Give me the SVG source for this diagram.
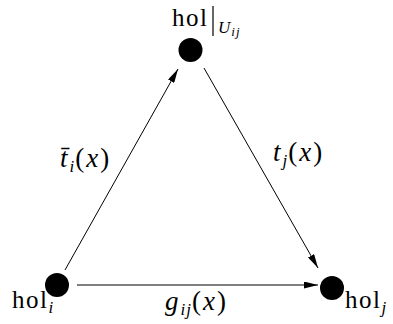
<svg xmlns="http://www.w3.org/2000/svg" width="393" height="324" viewBox="0 0 393 324">
<style>
.m{font-size:25px}
.mm{font-size:27px;letter-spacing:2px}
.s{font-size:17px;letter-spacing:1px}
.ss{font-size:13px}
.i{font-style:italic}
.n{font-style:normal}
.w{letter-spacing:1.5px}
.edge{stroke:#000;stroke-width:1;fill:none}
</style>
<defs>
<marker id="ah" viewBox="0 0 14 7" refX="14" refY="3.5" markerWidth="14" markerHeight="7" orient="auto" markerUnits="userSpaceOnUse">
<path d="M0,0 L14,3.5 L0,7 Z" fill="#000"/>
</marker>
</defs>
<rect width="393" height="324" fill="#fff"/>
<g id="connectors" font-family="Liberation Serif, Times New Roman, serif" fill="#000">
<line class="edge" x1="65" y1="270" x2="178" y2="69" marker-end="url(#ah)"/>
<line class="edge" x1="204" y1="68" x2="318" y2="268" marker-end="url(#ah)"/>
<line class="edge" x1="77" y1="285" x2="318" y2="285" marker-end="url(#ah)"/>
<text class="mm i" x="60" y="167">t̄<tspan class="s" dy="5">i</tspan><tspan class="n" dy="-5">(</tspan>x<tspan class="n">)</tspan></text>
<text class="mm i" x="273" y="161">t<tspan class="s" dy="5">j</tspan><tspan class="n" dy="-5">(</tspan>x<tspan class="n">)</tspan></text>
<text class="mm i" x="165" y="310">g<tspan class="s" dy="5">ij</tspan><tspan class="n" dy="-5">(</tspan>x<tspan class="n">)</tspan></text>
</g>
<g id="node-top" font-family="Liberation Serif, Times New Roman, serif" fill="#000">
<circle cx="190.5" cy="50" r="12"/>
<text class="m w" x="172" y="26">hol</text>
<line x1="213" y1="6" x2="213" y2="36" stroke="#000" stroke-width="1.2"/>
<text class="s i" x="218" y="33">U<tspan class="ss" dy="3">ij</tspan></text>
</g>
<g id="node-i" font-family="Liberation Serif, Times New Roman, serif" fill="#000">
<circle cx="57" cy="285" r="12"/>
<text class="m w" x="12" y="308">hol<tspan class="s i" dy="5">i</tspan></text>
</g>
<g id="node-j" font-family="Liberation Serif, Times New Roman, serif" fill="#000">
<circle cx="332" cy="288" r="12"/>
<text class="m w" x="345" y="308">hol<tspan class="s i" dy="5">j</tspan></text>
</g>
</svg>
